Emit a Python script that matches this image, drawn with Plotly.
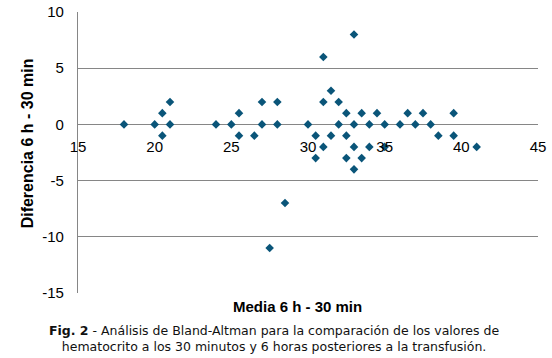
import plotly.graph_objects as go

media = [18, 20, 21, 24, 25, 27, 28, 30,
         20.5, 25.5,
         21, 27, 28,
         20.5, 25.5, 26.5,
         28.5, 27.5,
         33, 31, 31.5, 31, 32,
         32.5, 33.5, 34.5, 36.5, 37.5, 39.5,
         32, 33, 34, 35, 36, 37, 38,
         30.5, 31.5, 32.5, 38.5, 39.5,
         31, 33, 34, 35, 41,
         30.5, 32.5, 33.5,
         33]
diferencia = [0, 0, 0, 0, 0, 0, 0, 0,
              1, 1,
              2, 2, 2,
              -1, -1, -1,
              -7, -11,
              8, 6, 3, 2, 2,
              1, 1, 1, 1, 1, 1,
              0, 0, 0, 0, 0, 0, 0,
              -1, -1, -1, -1, -1,
              -2, -2, -2, -2, -2,
              -3, -3, -3,
              -4]

x_ticks = [15, 20, 25, 30, 35, 40, 45]
y_ticks = [10, 5, 0, -5, -10, -15]

caption = ("<b>Fig. 2</b> - Análisis de Bland-Altman para la comparación de los valores de<br>"
           "hematocrito a los 30 minutos y 6 horas posteriores a la transfusión.")

fig = go.Figure()
fig.add_trace(go.Scatter(
    x=media, y=diferencia, mode="markers",
    marker=dict(symbol="diamond", size=6.6, color="#0a5579", line=dict(width=0)),
    showlegend=False, cliponaxis=False,
))

grid_color = "#868686"
fig.update_layout(
    width=552, height=358,
    margin=dict(l=78, r=14, t=12, b=65),
    paper_bgcolor="white", plot_bgcolor="white",
    font=dict(family="Liberation Sans, Arial, sans-serif", size=15, color="black"),
    xaxis=dict(
        range=[15, 45], tickvals=x_ticks, ticktext=[str(v) for v in x_ticks],
        showgrid=False, zeroline=False, showline=False,
        anchor="free", position=0.6, side="bottom",
        ticks="", ticklabelstandoff=12, automargin=False,
        tickfont=dict(size=15),
    ),
    yaxis=dict(
        range=[-15, 10], tickvals=y_ticks, ticktext=[str(v) for v in y_ticks],
        showgrid=True, gridcolor=grid_color, gridwidth=1.3,
        zeroline=False, showline=True, linecolor=grid_color, linewidth=1.3,
        ticks="", ticklabelstandoff=10, automargin=False, tickfont=dict(size=15),
    ),
    annotations=[
        dict(text="<b>Media 6 h - 30 min</b>", xref="paper", yref="paper",
             x=(297 - 78) / 460, y=-0.048, xanchor="center", yanchor="middle", showarrow=False,
             font=dict(size=15, family="Liberation Sans, Arial, sans-serif")),
        dict(text="<b>Diferencia 6 h - 30 min</b>", xref="paper", yref="paper",
             x=-0.109, y=0.532, xanchor="center", yanchor="middle", textangle=-90,
             showarrow=False, font=dict(size=16, family="Liberation Sans, Arial, sans-serif")),
        dict(text=caption, xref="paper", yref="paper",
             x=(274 - 78) / 460, y=(293 - 338) / 281, xanchor="center", yanchor="middle",
             showarrow=False, align="center",
             font=dict(size=12.5, family="DejaVu Sans, Verdana, sans-serif", color="#111111")),
    ],
)

fig.write_html("out.html", config={"displayModeBar": False},
               post_script="document.body.style.margin='0';document.body.style.overflow='hidden';")
